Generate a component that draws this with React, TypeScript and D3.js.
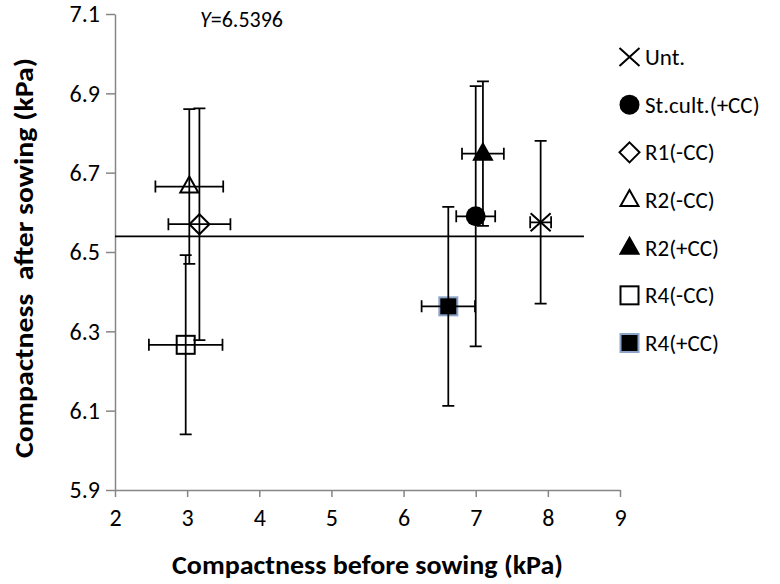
import React, { useEffect, useRef } from 'react';
import * as d3 from 'd3';

// treatments, compactness before (x) and after (y) sowing, kPa
const seriesNames = ['Unt.', 'St.cult.(+CC)', 'R1(-CC)', 'R2(-CC)', 'R2(+CC)', 'R4(-CC)', 'R4(+CC)'];
const beforeSowing = [7.9, 7.0, 3.17, 3.03, 7.1, 2.98, 6.62];
const afterSowing = [6.575, 6.59, 6.57, 6.665, 6.748, 6.266, 6.363];
const beforeError = [0.145, 0.27, 0.43, 0.47, 0.29, 0.51, 0.37];
const afterError = [0.205, 0.328, 0.292, 0.195, 0.182, 0.226, 0.251];
const markerTypes = ['cross', 'circle', 'diamond', 'triangle', 'triangleFilled', 'square', 'squareFilled'];

const xTicks = [2, 3, 4, 5, 6, 7, 8, 9];
const yTicks = [5.9, 6.1, 6.3, 6.5, 6.7, 6.9, 7.1];
const meanAfter = 6.5396;
const meanLineRange = [2, 8.5];

const FONT = 'Carlito, Calibri, Lato, sans-serif';

// draws one marker centred on (cx, cy)
const drawMarker = (g, type, cx, cy) => {
  const m = g.append('g').attr('transform', `translate(${cx},${cy})`);
  if (type === 'cross') {
    m.append('path')
      .attr('d', 'M-10,-9L10,9M-10,9L10,-9')
      .attr('stroke', '#000')
      .attr('stroke-width', 2)
      .attr('fill', 'none');
  } else if (type === 'circle') {
    m.append('circle').attr('r', 10).attr('fill', '#000');
  } else if (type === 'diamond') {
    m.append('path')
      .attr('d', 'M0,-10L10,0L0,10L-10,0Z')
      .attr('fill', '#fff')
      .attr('stroke', '#000')
      .attr('stroke-width', 2);
  } else if (type === 'triangle' || type === 'triangleFilled') {
    m.append('path')
      .attr('d', 'M0,-10L9,6L-9,6Z')
      .attr('fill', type === 'triangle' ? '#fff' : '#000')
      .attr('stroke', '#000')
      .attr('stroke-width', 2)
      .attr('stroke-linejoin', 'miter');
  } else if (type === 'square') {
    m.append('rect')
      .attr('x', -9).attr('y', -9).attr('width', 18).attr('height', 18)
      .attr('fill', '#fff')
      .attr('stroke', '#000')
      .attr('stroke-width', 2);
  } else {
    m.append('rect')
      .attr('x', -9).attr('y', -9).attr('width', 18).attr('height', 18)
      .attr('fill', '#000')
      .attr('stroke', '#8da4c9')
      .attr('stroke-width', 2);
  }
};

const App = () => {
  const ref = useRef(null);

  useEffect(() => {
    const svg = d3.select(ref.current);
    svg.selectAll('*').remove();

    const xScale = d3.scaleLinear().domain([2, 9]).range([115, 620]);
    const yScale = d3.scaleLinear().domain([5.9, 7.1]).range([490, 14]);

    // axes
    const xAxis = svg.append('g')
      .attr('transform', 'translate(0,490)')
      .call(d3.axisBottom(xScale).tickValues(xTicks).tickFormat(d3.format('d'))
        .tickSize(7).tickSizeOuter(0).tickPadding(12));
    const yAxis = svg.append('g')
      .attr('transform', 'translate(115,0)')
      .call(d3.axisLeft(yScale).tickValues(yTicks).tickFormat(d3.format('.1f'))
        .tickSize(9).tickSizeOuter(0).tickPadding(6));

    [xAxis, yAxis].forEach(ax => {
      ax.select('.domain').attr('stroke', '#868686').attr('stroke-width', 1.5);
      ax.selectAll('.tick line').attr('stroke', '#868686').attr('stroke-width', 1.5);
      ax.selectAll('.tick text')
        .attr('fill', '#000')
        .style('font-family', FONT)
        .style('font-size', '24px');
    });

    // axis titles
    svg.append('text')
      .attr('x', 367.5)
      .attr('y', 574)
      .attr('text-anchor', 'middle')
      .attr('textLength', 391)
      .attr('lengthAdjust', 'spacingAndGlyphs')
      .style('font-family', FONT)
      .style('font-size', '26px')
      .style('font-weight', 'bold')
      .text('Compactness before sowing (kPa)');

    svg.append('text')
      .attr('transform', 'translate(33,258) rotate(-90)')
      .attr('text-anchor', 'middle')
      .attr('textLength', 400)
      .attr('lengthAdjust', 'spacingAndGlyphs')
      .attr('xml:space', 'preserve')
      .style('font-family', FONT)
      .style('font-size', '26px')
      .style('font-weight', 'bold')
      .style('white-space', 'pre')
      .text('Compactness  after sowing (kPa)');

    // mean line and its label
    svg.append('line')
      .attr('x1', xScale(meanLineRange[0]))
      .attr('x2', xScale(meanLineRange[1]))
      .attr('y1', yScale(meanAfter))
      .attr('y2', yScale(meanAfter))
      .attr('stroke', '#000')
      .attr('stroke-width', 1.75);

    const label = svg.append('text')
      .attr('x', 200)
      .attr('y', 27)
      .style('font-family', FONT)
      .style('font-size', '22px');
    label.append('tspan').style('font-style', 'italic').text('Y');
    label.append('tspan').text(`=${meanAfter}`);

    // markers
    const plot = svg.append('g');
    seriesNames.forEach((name, i) => {
      drawMarker(plot, markerTypes[i], xScale(beforeSowing[i]), yScale(afterSowing[i]));
    });

    // error bars on top of the markers
    const cap = 6;
    seriesNames.forEach((name, i) => {
      const cx = xScale(beforeSowing[i]);
      const cy = yScale(afterSowing[i]);
      const x0 = xScale(beforeSowing[i] - beforeError[i]);
      const x1 = xScale(beforeSowing[i] + beforeError[i]);
      const y0 = yScale(afterSowing[i] - afterError[i]);
      const y1 = yScale(afterSowing[i] + afterError[i]);
      const path = d3.path();
      path.moveTo(x0, cy); path.lineTo(x1, cy);
      path.moveTo(x0, cy - cap); path.lineTo(x0, cy + cap);
      path.moveTo(x1, cy - cap); path.lineTo(x1, cy + cap);
      path.moveTo(cx, y0); path.lineTo(cx, y1);
      path.moveTo(cx - cap, y0); path.lineTo(cx + cap, y0);
      path.moveTo(cx - cap, y1); path.lineTo(cx + cap, y1);
      plot.append('path')
        .attr('d', path.toString())
        .attr('stroke', '#000')
        .attr('stroke-width', 1.75)
        .attr('fill', 'none');
    });

    // legend
    const legendY = d3.scaleLinear().domain([0, seriesNames.length - 1]).range([57, 343]);
    seriesNames.forEach((name, i) => {
      const y = legendY(i);
      drawMarker(svg, markerTypes[i], 629.5, y);
      svg.append('text')
        .attr('x', 645)
        .attr('y', y)
        .attr('dy', '0.35em')
        .style('font-family', FONT)
        .style('font-size', '23px')
        .text(name);
    });
  }, []);

  return (
    <svg ref={ref} width={780} height={584} style={{ position: 'absolute', left: 0, top: 0, background: '#fff' }} />
  );
};

export default App;
